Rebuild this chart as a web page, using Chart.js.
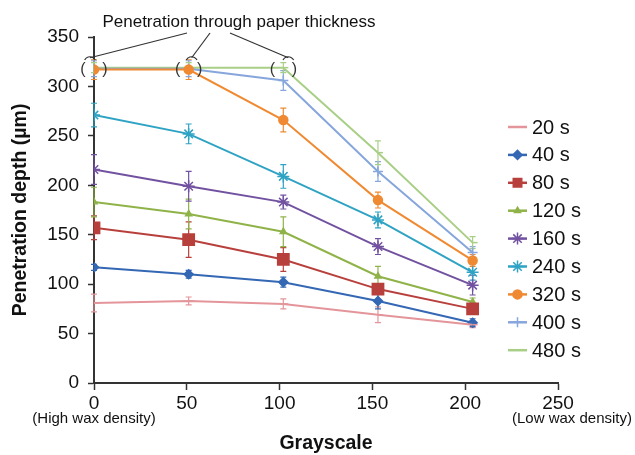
<!DOCTYPE html>
<html>
<head>
<meta charset="utf-8">
<script src="https://cdn.jsdelivr.net/npm/chart.js@4.4.1/dist/chart.umd.min.js"></script>
<style>
  html, body { margin: 0; padding: 0; background: #fff; }
  #wrap { width: 635px; height: 455px; }
</style>
</head>
<body>
<div id="wrap"><canvas id="chart" width="635" height="455"></canvas></div>
<script>
// grayscale values on the x axis
const grayscale = [0, 51, 102, 153, 204];
const seriesNames = ["20 s", "40 s", "80 s", "120 s", "160 s", "240 s", "320 s", "400 s", "480 s"];

// penetration depth (um) per exposure time
const depth20 = [81, 83, 80, 69, 59];
const depth40 = [117, 110, 102, 83, 61];
const depth80 = [157, 145, 125, 95, 75];
const depth120 = [183, 171, 153, 108, 82];
const depth160 = [216, 199, 183, 138, 99];
const depth240 = [271, 252, 209, 165, 112];
const depth320 = [317, 317, 266, 185, 124];
const depth400 = [318, 318, 306, 214, 132];
const depth480 = [319, 319, 319, 233, 142];

// error bar half-heights
const err20 = [9, 4, 5, 8, 3];
const err40 = [3, 4, 5, 8, 4];
const err80 = [12, 18, 12, 5, 5];
const err120 = [15, 15, 15, 10, 4];
const err160 = [15, 15, 7, 8, 10];
const err240 = [12, 10, 12, 8, 8];
const err320 = [10, 10, 12, 8, 6];
const err400 = [8, 8, 10, 10, 6];
const err480 = [5, 5, 5, 12, 6];

const xTicks = [0, 50, 100, 150, 200, 250];
const yTicks = [0, 50, 100, 150, 200, 250, 300, 350];

const allDepths = [depth20, depth40, depth80, depth120, depth160, depth240, depth320, depth400, depth480];
const allErrs = [err20, err40, err80, err120, err160, err240, err320, err400, err480];
const colors = ["#e4959a", "#3467b4", "#b8403c", "#8fb348", "#7252a0", "#2fa3c4", "#f08a32", "#86a6dc", "#a9cf86"];
const styles = ["dash", "rectRot", "rect", "triangle", "star", "star", "circle", "cross", "dash"];
const radii = [5, 4.5, 8, 3.5, 6, 6, 4.5, 5, 5];

const FONT = "'Liberation Sans', Arial, sans-serif";

const datasets = allDepths.map((d, i) => ({
    label: seriesNames[i],
    data: d.map((v, j) => ({ x: grayscale[j], y: v })),
    errors: allErrs[i],
    borderColor: colors[i],
    backgroundColor: colors[i],
    borderWidth: 2,
    pointStyle: styles[i],
    pointRadius: radii[i],
    pointBorderWidth: 1.5,
    tension: 0
}));

// vertical error bars with caps
const errorBars = {
    id: "errorBars",
    beforeDatasetsDraw(chart) {
        const ctx = chart.ctx;
        const yScale = chart.scales.y;
        chart.data.datasets.forEach((ds, i) => {
            const meta = chart.getDatasetMeta(i);
            ctx.save();
            ctx.strokeStyle = ds.borderColor;
            ctx.lineWidth = 1.2;
            meta.data.forEach((pt, j) => {
                const v = ds.data[j].y, e = ds.errors[j];
                const yTop = yScale.getPixelForValue(v + e);
                const yBot = yScale.getPixelForValue(v - e);
                ctx.beginPath();
                ctx.moveTo(pt.x, yTop); ctx.lineTo(pt.x, yBot);
                ctx.moveTo(pt.x - 3, yTop); ctx.lineTo(pt.x + 3, yTop);
                ctx.moveTo(pt.x - 3, yBot); ctx.lineTo(pt.x + 3, yBot);
                ctx.stroke();
            });
            ctx.restore();
        });
    }
};

// legend, annotation, sub labels
const extras = {
    id: "extras",
    afterDraw(chart) {
        const ctx = chart.ctx;
        const xs = chart.scales.x, ys = chart.scales.y;
        ctx.save();

        // legend
        chart.data.datasets.forEach((ds, i) => {
            const ly = 127 + i * 27.9;
            ctx.strokeStyle = ds.borderColor;
            ctx.fillStyle = ds.backgroundColor;
            ctx.lineWidth = 2.5;
            ctx.beginPath();
            ctx.moveTo(508, ly); ctx.lineTo(527, ly);
            ctx.stroke();
            ctx.lineWidth = 1.5;
            Chart.helpers.drawPoint(ctx, {
                pointStyle: ds.pointStyle, radius: Math.min(ds.pointRadius, 6), rotation: 0, borderWidth: 1.5
            }, 517.5, ly);
            ctx.fillStyle = "#111";
            ctx.font = "20px " + FONT;
            ctx.textAlign = "left";
            ctx.textBaseline = "middle";
            ctx.fillText(ds.label, 532, ly + 1);
        });

        // x sub labels
        ctx.fillStyle = "#111";
        ctx.font = "15px " + FONT;
        ctx.textBaseline = "middle";
        ctx.textAlign = "center";
        ctx.fillText("(High wax density)", xs.getPixelForValue(0), 419);
        ctx.textAlign = "right";
        ctx.fillText("(Low wax density)", 632, 419);

        // annotation
        ctx.font = "17px " + FONT;
        ctx.textAlign = "center";
        ctx.fillText("Penetration through paper thickness", 239, 22);
        ctx.strokeStyle = "#333";
        ctx.lineWidth = 1.2;
        const starts = [187, 210, 230];
        const offs = [-4, 3, 5];
        for (let k = 0; k < 3; k++) {
            const px = xs.getPixelForValue(grayscale[k]) + offs[k];
            const py = ys.getPixelForValue(329);
            ctx.beginPath();
            ctx.moveTo(starts[k], 33);
            ctx.lineTo(px, py);
            ctx.stroke();
            ctx.beginPath();
            ctx.arc(px, py + 5, 6, Math.PI * 1.15, Math.PI * 1.85);
            ctx.stroke();
            // parentheses around saturated points
            const cx = xs.getPixelForValue(grayscale[k]);
            const cy = ys.getPixelForValue(318);
            ctx.font = "16px " + FONT;
            ctx.fillStyle = "#333";
            ctx.textBaseline = "middle";
            ctx.fillText("(", cx - 11, cy + 1);
            ctx.fillText(")", cx + 11, cy + 1);
        }
        ctx.restore();
    }
};

new Chart(document.getElementById("chart"), {
    type: "line",
    data: { datasets: datasets },
    plugins: [errorBars, extras],
    options: {
        responsive: false,
        animation: false,
        layout: { padding: { top: 37, right: 77, left: 0, bottom: 0 } },
        plugins: { legend: { display: false }, tooltip: { enabled: false } },
        scales: {
            x: {
                type: "linear",
                min: 0, max: 250,
                afterBuildTicks: s => { s.ticks = xTicks.map(v => ({ value: v })); },
                afterFit: s => { s.height = 72; },
                ticks: { color: "#111", font: { family: FONT, size: 19 }, padding: 2, maxRotation: 0 },
                grid: { drawOnChartArea: false, color: "#333", tickLength: 7, tickWidth: 1.5 },
                border: { color: "#333", width: 2 },
                title: { display: true, text: "Grayscale", color: "#111", font: { family: FONT, size: 19.5, weight: "bold" }, padding: { top: 0, bottom: 0 } }
            },
            y: {
                min: 0, max: 350,
                afterBuildTicks: s => { s.ticks = yTicks.map(v => ({ value: v })); },
                afterFit: s => { s.width = 94; },
                ticks: { color: "#111", font: { family: FONT, size: 19 }, padding: 9 },
                grid: { drawOnChartArea: false, color: "#333", tickLength: 6, tickWidth: 1.5 },
                border: { color: "#333", width: 2 },
                title: { display: true, text: "Penetration depth (µm)", color: "#111", font: { family: FONT, size: 19.5, weight: "bold" }, padding: { top: 9, bottom: 0 } }
            }
        }
    }
});
</script>
</body>
</html>
